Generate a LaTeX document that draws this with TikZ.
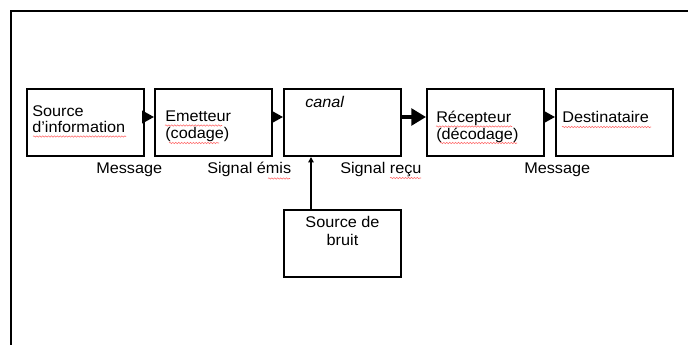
\documentclass[tikz,border=0pt]{standalone}
\usepackage{fontspec}
\setmainfont{Liberation Sans}[FakeStretch=1.05]
\usetikzlibrary{arrows.meta,decorations.pathmorphing}
\newcommand{\twoln}[3]{\vtop{\baselineskip=#1\hbox{#2}\hbox{#3}}}
\newcommand{\twolnc}[3]{\vtop{\baselineskip=#1\halign{\hfil##\hfil\cr#2\cr#3\cr}}}
\begin{document}
\begin{tikzpicture}[x=0.75pt,y=-0.75pt,
  font=\fontsize{11.6}{13}\selectfont,
  box/.style={draw, line width=1.5pt, minimum width=87.75pt, minimum height=50.25pt, inner sep=0pt},
  txt/.style={anchor=base west, inner sep=0pt},
  arr/.style={line width=1.5pt, -{Triangle[length=9pt,width=9.5pt]}},
  wav/.style={red!60, line width=0.4pt, decorate, decoration={snake, segment length=2.2pt, amplitude=0.5pt}}]
\useasboundingbox (0,0) rectangle (688,345);
\fill[white] (0,0) rectangle (688,345);
% frame
\draw[line width=1.5pt] (11,345) -- (11,11) -- (688,11);
% boxes
\node[box] (b1) at (85,122.5) {};
\node[box] (b2) at (213.5,122.5) {};
\node[box] (b3) at (342.5,122.5) {};
\node[box] (b4) at (485.5,122.5) {};
\node[box] (b5) at (614.5,122.5) {};
\node[box] (b6) at (342.5,243.5) {};
% texts in boxes
\node[txt] (t1) at (32,117) {\twoln{12pt}{Source}{d'information}};
\node[txt] (t2) at (165,122) {\twoln{12.75pt}{Emetteur}{(codage)}};
\node[txt] (t3) at (305,108) {\itshape canal};
\node[txt] (t4) at (436,123) {\twoln{12.5pt}{Récepteur}{(décodage)}};
\node[txt] (t5) at (562,123) {Destinataire};
\node[anchor=base, inner sep=0pt] (t6) at (342.5,228) {\twolnc{13pt}{Source de}{bruit}};
% labels
\node[txt] (l1) at (96,174) {Message};
\node[txt] (l2) at (207,174) {Signal émis};
\node[txt] (l3) at (340,174) {Signal reçu};
\node[txt] (l4) at (524,174) {Message};
% connectors
\coordinate (ay) at (0,117);
\coordinate (vx) at (311,0);
\draw[arr] (b1.east |- ay) -- (b2.west |- ay);
\draw[arr] (b2.east |- ay) -- (b3.west |- ay);
\draw[line width=2.6pt, -{Triangle[length=11pt,width=12.5pt]}] (b3.east |- ay) -- (b4.west |- ay);
\draw[arr] (b4.east |- ay) -- (b5.west |- ay);
\draw[line width=1.4pt, -{Triangle[length=4pt,width=4pt]}] (b6.north -| vx) -- (b3.south -| vx);
% spell-check underlines
\draw[wav] (33,136.5) -- (126,136.5);
\draw[wav] (165,125.5) -- (222,125.5);
\draw[wav] (169,143) -- (219,143);
\draw[wav] (268,178.5) -- (290,178.5);
\draw[wav] (390,178) -- (421,178);
\draw[wav] (436,126.5) -- (512,126.5);
\draw[wav] (440,143) -- (517,143);
\draw[wav] (562,127) -- (651,127);
\end{tikzpicture}
\end{document}
